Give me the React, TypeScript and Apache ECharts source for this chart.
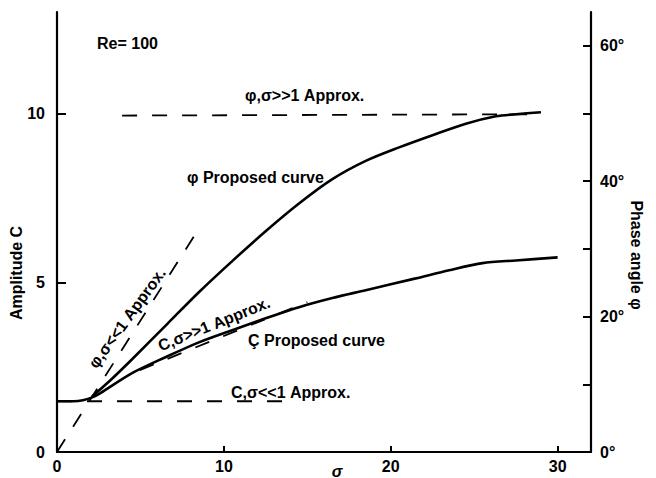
import React, { useEffect, useRef } from "react";
import * as echarts from "echarts";

// Amplitude C proposed curve (left axis)
const sigmaC = [0, 1, 1.55, 2.15, 2.6, 4.5, 6.5, 8.5, 10.5, 12.5, 14.5, 16.5, 18.5, 21.5, 23.5, 25.5, 27.5, 30];
const ampC = [1.5, 1.5, 1.53, 1.62, 1.74, 2.33, 2.8, 3.24, 3.6, 3.95, 4.28, 4.55, 4.78, 5.13, 5.37, 5.58, 5.66, 5.75];

// Phase angle phi proposed curve (right axis, degrees)
const sigmaPhi = [2.1, 3.2, 4.5, 6.6, 8.5, 10.5, 12.5, 14.5, 16.5, 18.5, 20.5, 22.5, 24.5, 26.3, 27.5, 29];
const phiDeg = [8.2, 10.6, 13.7, 18.9, 23.6, 28.2, 32.6, 36.7, 40.3, 43.0, 45.0, 46.8, 48.5, 49.6, 49.9, 50.2];

// Approximations
const phiSmallSigma = [0, 8.5];
const phiSmallVal = [0, 33];
const phiLargeSigma = [3.9, 29];
const phiLargeVal = [49.7, 49.9];
const cLargeSigma = [4.96, 15];
const cLargeVal = [2.42, 4.43];
const cSmallSigma = [0, 13.7];
const cSmallVal = [1.5, 1.5];

// Ticks
const xLabels = [0, 10, 20, 30];
const xTicks = [10, 20, 30];
const leftLabels = [0, 5, 10];
const leftTicks = [5, 10];
const rightLabels = [0, 20, 40, 60];
const rightTicks = [10, 20, 30, 40, 50, 60];

const zip = (a: number[], b: number[]) => a.map((v, i) => [v, b[i]]);

const FONT = "'Liberation Sans', Arial, sans-serif";

export default function App() {
  const ref = useRef<HTMLDivElement>(null);
  useEffect(() => {
    if (!ref.current) return;
    const chart = echarts.init(ref.current, undefined, { renderer: "svg" });
    const axisLine = { show: true, onZero: false, lineStyle: { color: "#000", width: 2.2 } };
    const lbl = { color: "#000", fontSize: 16, fontWeight: "bold" as const, fontFamily: FONT };
    const solid = { color: "#000", width: 2.6 };
    const dashed = { color: "#000", width: 1.8, type: [15, 15] as any };
    const txt = (text: string, x: number, y: number, extra: any = {}) => ({
      type: "text",
      x,
      y,
      rotation: extra.rotation || 0,
      style: {
        text,
        x: 0,
        y: 0,
        fill: "#000",
        font: `${extra.italic ? "italic " : ""}bold ${extra.size || 16}px ${FONT}`,
        align: extra.align || "left",
        verticalAlign: "middle",
      },
    });
    chart.setOption({
      animation: false,
      backgroundColor: "#fff",
      grid: { left: 57, right: 65, top: 12, bottom: 26, containLabel: false },
      xAxis: {
        type: "value",
        min: 0,
        max: 32,
        interval: 10,
        axisLine,
        splitLine: { show: false },
        axisTick: { inside: true, length: 6, customValues: xTicks, lineStyle: { color: "#000", width: 2 } },
        axisLabel: { ...lbl, margin: 6, customValues: xLabels },
      },
      yAxis: [
        {
          type: "value",
          position: "left",
          min: 0,
          max: 13,
          interval: 5,
          axisLine,
          splitLine: { show: false },
          axisTick: { inside: true, length: 9, customValues: leftTicks, lineStyle: { color: "#000", width: 2 } },
          axisLabel: { ...lbl, margin: 12, customValues: leftLabels },
        },
        {
          type: "value",
          position: "right",
          min: 0,
          max: 65,
          interval: 10,
          axisLine,
          splitLine: { show: false },
          axisTick: { inside: true, length: 8, customValues: rightTicks, lineStyle: { color: "#000", width: 2 } },
          axisLabel: { ...lbl, margin: 9, customValues: rightLabels, formatter: "{value}°" },
        },
      ],
      series: [
        { name: "C proposed", type: "line", yAxisIndex: 0, data: zip(sigmaC, ampC), smooth: 0.3, showSymbol: false, lineStyle: solid },
        { name: "phi proposed", type: "line", yAxisIndex: 1, data: zip(sigmaPhi, phiDeg), smooth: 0.3, showSymbol: false, lineStyle: solid },
        { name: "phi small", type: "line", yAxisIndex: 1, data: zip(phiSmallSigma, phiSmallVal), showSymbol: false, lineStyle: dashed },
        { name: "phi large", type: "line", yAxisIndex: 1, data: zip(phiLargeSigma, phiLargeVal), showSymbol: false, lineStyle: dashed },
        { name: "C large", type: "line", yAxisIndex: 0, data: zip(cLargeSigma, cLargeVal), showSymbol: false, lineStyle: dashed },
        { name: "C small", type: "line", yAxisIndex: 0, data: zip(cSmallSigma, cSmallVal), showSymbol: false, lineStyle: dashed },
      ],
      graphic: [
        txt("Re= 100", 97, 43),
        txt("φ,σ>>1 Approx.", 245, 95),
        txt("φ Proposed curve", 187, 177),
        txt("φ,σ<<1 Approx.", 127, 318, { align: "center", rotation: (54 * Math.PI) / 180 }),
        txt("C,σ>>1 Approx.", 214, 324, { align: "center", rotation: (22 * Math.PI) / 180 }),
        txt("Ç Proposed curve", 248, 340),
        txt("C,σ<<1 Approx.", 231, 392),
        txt("Amplitude C", 16, 273, { align: "center", rotation: Math.PI / 2 }),
        txt("Phase angle φ", 636, 255, { align: "center", rotation: -Math.PI / 2 }),
        txt("σ", 337, 471, { align: "center", italic: true }),
      ],
    });
    return () => chart.dispose();
  }, []);
  return <div ref={ref} style={{ position: "fixed", left: 0, top: 0, width: 656, height: 478 }} />;
}
